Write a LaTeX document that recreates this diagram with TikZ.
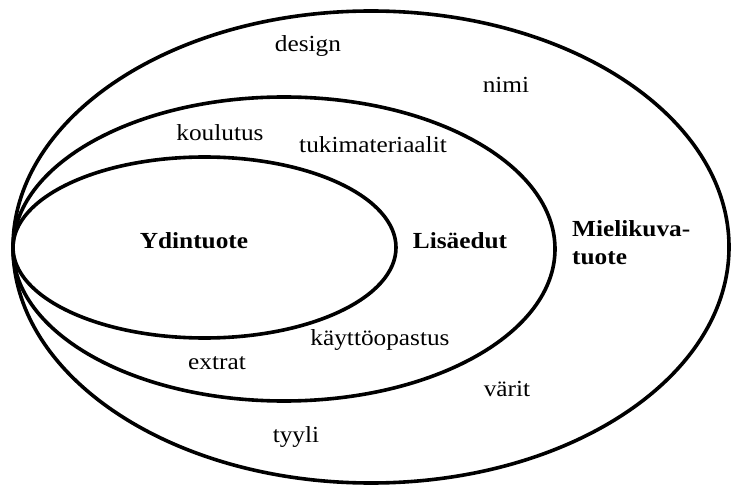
\documentclass[tikz,border=0pt]{standalone}
\usepackage{fontspec}
\setmainfont[FakeStretch=1.1]{Liberation Serif}
\usetikzlibrary{shapes.geometric}
\begin{document}
\begin{tikzpicture}[x=1pt,y=-1pt,
  ring/.style={draw=black, line width=3.6pt, ellipse, inner sep=0pt, outer sep=0pt},
  lbl/.style={font=\fontsize{23}{25}\selectfont, inner sep=0pt, anchor=center},
  blbl/.style={font=\fontsize{23}{28}\selectfont\bfseries, inner sep=0pt}]
\useasboundingbox (0,0) rectangle (733,486);
\node[ring, minimum width=716pt, minimum height=472pt] (outer) at (371,247) {};
\node[ring, minimum width=542pt, minimum height=304pt] (middle) at (284,249) {};
\node[ring, minimum width=383pt, minimum height=181pt] (inner) at (204.5,247.5) {};
\node[lbl] (design) at (308,46) {design};
\node[lbl] (nimi) at (506,85) {nimi};
\node[lbl] (koulutus) at (220,133) {koulutus};
\node[lbl] (tuki) at (373,145) {tukimateriaalit};
\node[blbl] (ydin) at (194,241) {Ydintuote};
\node[blbl] (lisa) at (460,241) {Lisäedut};
\node[blbl, align=left, anchor=west] (mieli) at (572,243) {Mielikuva-\\tuote};
\node[lbl] (kaytto) at (380,340) {käyttöopastus};
\node[lbl] (extrat) at (217,363) {extrat};
\node[lbl] (varit) at (507,389) {värit};
\node[lbl] (tyyli) at (296,437) {tyyli};
\end{tikzpicture}
\end{document}
